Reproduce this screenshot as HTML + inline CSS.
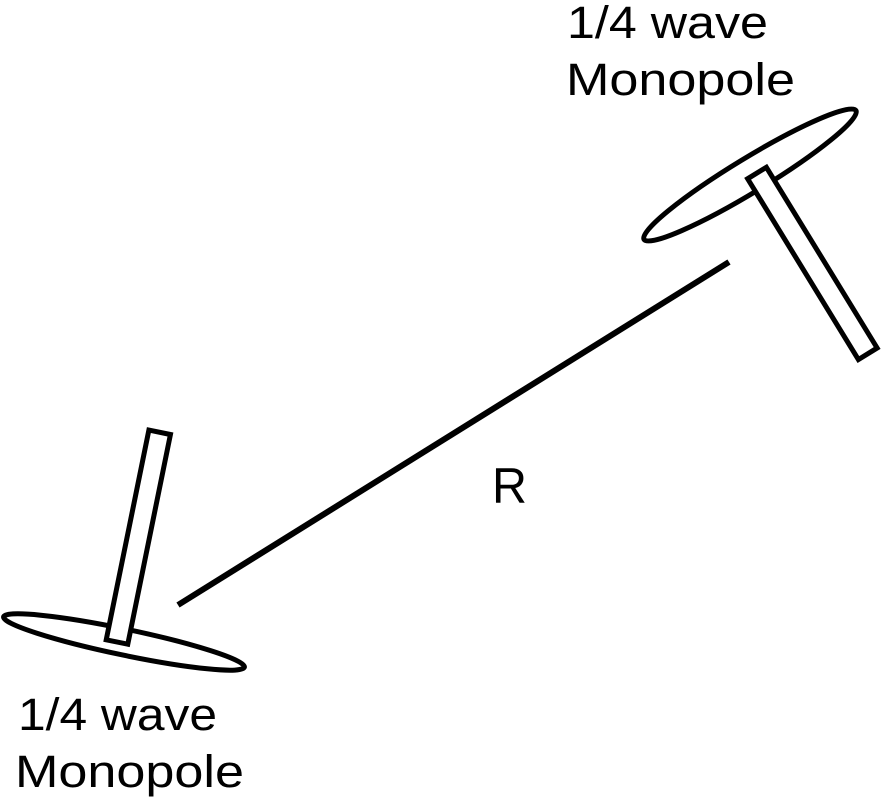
<!DOCTYPE html>
<html><head><style>html,body{margin:0;padding:0;background:#fff}</style></head>
<body>
<svg width="881" height="798" viewBox="0 0 881 798" xmlns="http://www.w3.org/2000/svg" style="display:block">
<g fill="none" stroke="#000" stroke-width="5">
<ellipse cx="750" cy="175" rx="124" ry="17" transform="rotate(-31.3 750 175)"/>
<rect x="-11" y="0" width="22" height="212" fill="#fff" transform="translate(757 173) rotate(-31.5)"/>
<ellipse cx="124" cy="642" rx="123" ry="13" transform="rotate(11.8 124 642)"/>
<rect x="-11" y="0" width="22" height="214" fill="#fff" transform="translate(117 642) rotate(191.5)"/>
<line x1="178" y1="605" x2="729" y2="262" stroke-width="6"/>
</g>
<g font-family="Liberation Sans, sans-serif" font-size="45" fill="#000">
<text x="567" y="38" textLength="201" lengthAdjust="spacingAndGlyphs">1/4 wave</text>
<text x="566" y="95" textLength="229" lengthAdjust="spacingAndGlyphs">Monopole</text>
<text x="18" y="730" textLength="199" lengthAdjust="spacingAndGlyphs">1/4 wave</text>
<text x="15" y="787" textLength="229" lengthAdjust="spacingAndGlyphs">Monopole</text>
<text x="492" y="503" font-size="50" textLength="35" lengthAdjust="spacingAndGlyphs">R</text>
</g>
</svg>
</body></html>
